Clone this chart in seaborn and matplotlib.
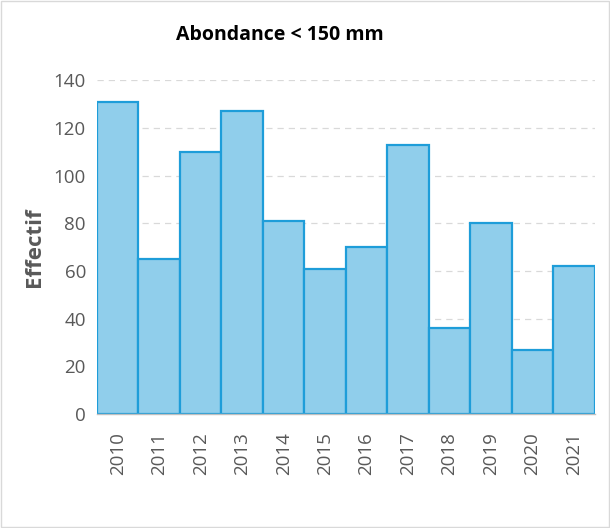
import pandas as pd
import numpy as np
import matplotlib.pyplot as plt
import seaborn as sns
from matplotlib.patches import Rectangle

# Données
annees = ["2010", "2011", "2012", "2013", "2014", "2015",
          "2016", "2017", "2018", "2019", "2020", "2021"]
effectif = [131, 65, 110, 127, 81, 61, 70, 113, 36, 80, 27, 62]

df = pd.DataFrame({"Annee": annees, "Effectif": effectif})

sns.set_style("white")
plt.rcParams['font.family'] = ['Open Sans', 'DejaVu Sans']

fig = plt.figure(figsize=(6.1, 5.28), dpi=100)
ax = fig.add_axes([0.159, 0.216, 0.816, 0.632])

sns.barplot(x="Annee", y="Effectif", data=df, ax=ax, width=1.0,
            color="#90CEEB", saturation=1, edgecolor="#1E9DD9", linewidth=1.6)

ax.set_ylim(0, 140)
ax.set_yticks(range(0, 141, 20))
ax.set_xlim(-0.5, 11.5)
ax.yaxis.grid(True, linestyle=(0, (5, 4)), color="#D9D9D9", linewidth=0.9)
ax.set_axisbelow(True)
for s in ["top", "right", "left"]:
    ax.spines[s].set_visible(False)
ax.spines["bottom"].set_color("#BFBFBF")
ax.spines["bottom"].set_linewidth(1.0)

ax.tick_params(axis="x", labelrotation=90, labelsize=13.5, colors="#595959", length=0, pad=13)
ax.tick_params(axis="y", labelsize=13.5, colors="#595959", length=0, pad=8)
ax.set_xlabel("")
ax.set_ylabel("Effectif", fontsize=16, fontweight="bold", color="#595959", labelpad=6)

fig.text(280 / 610, 1 - 35 / 528, "Abondance < 150 mm", ha="center", va="center",
         fontsize=14, fontweight="bold", color="black")

fig.patches.append(Rectangle((0.002, 0.002), 0.996, 0.996, transform=fig.transFigure,
                             fill=False, edgecolor="#D9D9D9", linewidth=1))

plt.savefig("out.png", dpi=100)
